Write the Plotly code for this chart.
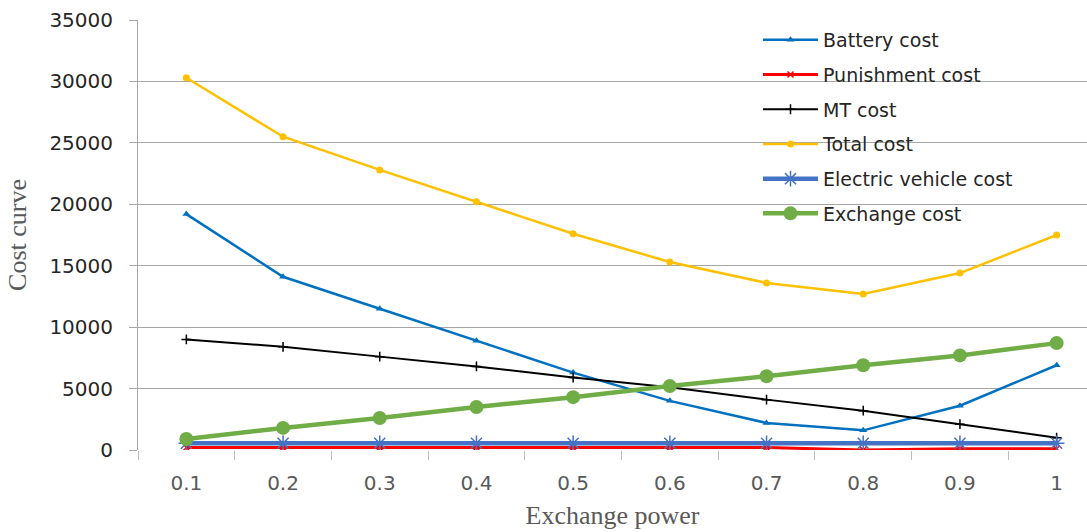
import plotly.graph_objects as go

# Exchange power steps and cost components
exchange_power = [0.1, 0.2, 0.3, 0.4, 0.5, 0.6, 0.7, 0.8, 0.9, 1.0]
tick_labels = ["0.1", "0.2", "0.3", "0.4", "0.5", "0.6", "0.7", "0.8", "0.9", "1"]

battery_cost = [19200, 14100, 11500, 8900, 6300, 4000, 2200, 1600, 3600, 6900]
punishment_cost = [200, 200, 200, 200, 200, 200, 200, 0, 100, 100]
mt_cost = [9000, 8400, 7600, 6800, 5900, 5100, 4100, 3200, 2100, 1000]
total_cost = [30300, 25500, 22800, 20200, 17600, 15300, 13600, 12700, 14400, 17500]
ev_cost = [550, 550, 550, 550, 550, 550, 550, 550, 550, 550]
exchange_cost = [900, 1800, 2600, 3500, 4300, 5200, 6000, 6900, 7700, 8700]

y_ticks = [0, 5000, 10000, 15000, 20000, 25000, 30000, 35000]
y_tick_text = ["0", "5000", "10000", "15000", "20000", "25000", "30000", "35000"]
boundaries = [0.05, 0.15, 0.25, 0.35, 0.45, 0.55, 0.65, 0.75, 0.85, 0.95]

series = [
    ("Battery cost", battery_cost, "#0070C0", 2.5, "triangle-up", 7, None),
    ("Punishment cost", punishment_cost, "#FF0000", 3, "x-thin-open", 6, 1.5),
    ("MT cost", mt_cost, "#000000", 2, "cross-thin-open", 7, 1.5),
    ("Total cost", total_cost, "#FFC000", 2.5, "circle", 7, None),
    ("Electric vehicle cost", ev_cost, "#4472C4", 4.5, "asterisk-open", 13, 1.5),
    ("Exchange cost", exchange_cost, "#70AD47", 4.5, "circle", 14, None),
]

fig = go.Figure()
for i, (name, vals, color, width, symbol, size, mlw) in enumerate(series):
    marker = dict(symbol=symbol, size=size, color=color)
    if mlw is not None:
        marker["line"] = dict(color=color, width=mlw)
    fig.add_trace(go.Scatter(
        x=exchange_power, y=vals, name=name, mode="lines+markers",
        line=dict(color=color, width=width), marker=marker,
        legendgroup=f"g{i}",
    ))

# Separate axis carrying the category-boundary tick marks
fig.add_trace(go.Scatter(x=[0.5], y=[0], xaxis="x2", showlegend=False,
                         mode="markers", marker=dict(opacity=0), hoverinfo="skip"))

# White backing behind the legend text area
fig.add_shape(type="rect", xref="paper", yref="paper",
              x0=(819 - 138) / 949, x1=(1015 - 138) / 949,
              y0=(450 - 228) / 430, y1=(450 - 24) / 430,
              fillcolor="white", line=dict(width=0), layer="between")

x_range = [0.05, 1.0314]

fig.update_layout(
    width=1087, height=532,
    margin=dict(l=138, r=0, t=20, b=82),
    paper_bgcolor="white", plot_bgcolor="white",
    font=dict(family="DejaVu Sans", color="#404040"),
    showlegend=True,
    legend=dict(
        x=(758 - 138) / 949, y=(450 - 21) / 430,
        xanchor="left", yanchor="top",
        bgcolor="rgba(0,0,0,0)", borderwidth=0,
        font=dict(family="DejaVu Sans", size=19, color="#262626"),
        tracegroupgap=7, itemwidth=55,
    ),
    xaxis=dict(
        range=x_range, tickvals=exchange_power, ticktext=tick_labels,
        ticks="", showgrid=False, zeroline=False, showline=False,
        tickfont=dict(family="DejaVu Sans", size=20, color="#595959"),
        ticklabelstandoff=19,
        title=dict(text="Exchange power", standoff=11,
                   font=dict(family="Liberation Serif", size=26, color="#595959")),
    ),
    xaxis2=dict(
        range=x_range, overlaying="x", side="bottom", anchor="y",
        tickvals=boundaries, ticks="outside", ticklen=9, tickcolor="#BFBFBF",
        showticklabels=False, showgrid=False, zeroline=False, showline=False,
    ),
    yaxis=dict(
        range=[0, 35000], tickvals=y_ticks, ticktext=y_tick_text,
        ticks="outside", ticklen=8,
        tickcolor="#A6A6A6", showgrid=True, gridcolor="#A6A6A6", gridwidth=1,
        zeroline=False, showline=True, linecolor="#A6A6A6", linewidth=1,
        tickfont=dict(family="DejaVu Sans", size=20, color="#262626"),
        ticklabelstandoff=12,
        title=dict(text="Cost curve", standoff=15,
                   font=dict(family="Liberation Serif", size=26, color="#595959")),
    ),
)

fig.write_html("out.html")
